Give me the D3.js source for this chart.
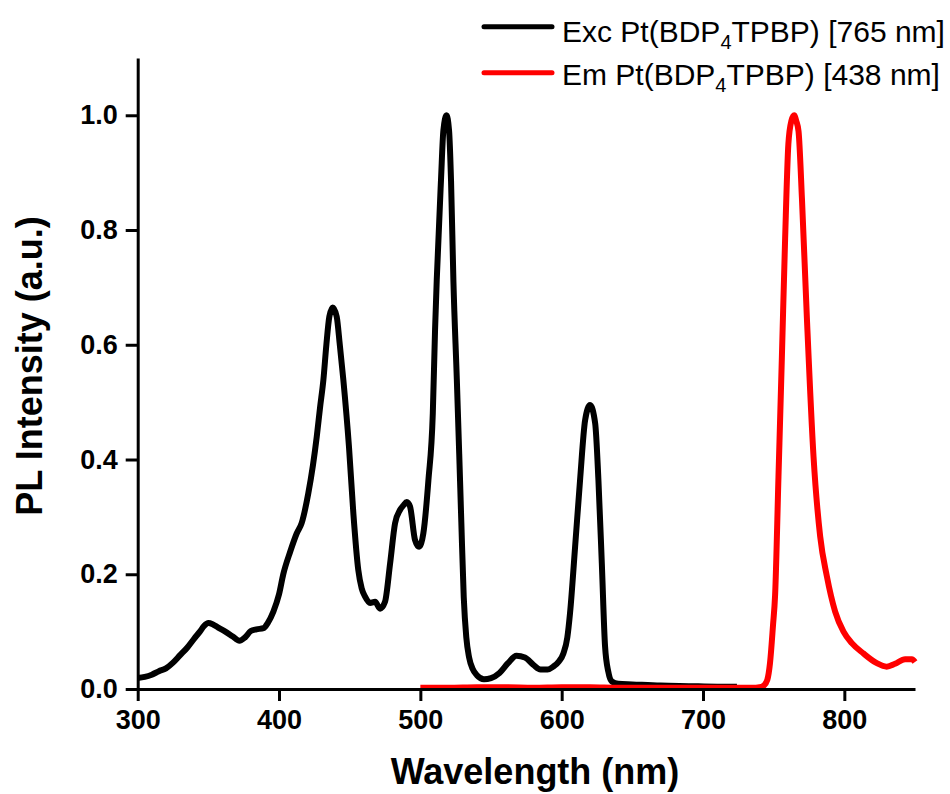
<!DOCTYPE html>
<html>
<head>
<meta charset="utf-8">
<script src="https://cdn.jsdelivr.net/npm/d3@7"></script>
<style>
  body { margin: 0; background: #fff; }
  svg { display: block; font-family: "Liberation Sans", Arial, sans-serif; }
</style>
</head>
<body>
<div id="container"></div>
<script>
// excitation spectrum (black)
var excWl = [300, 305, 310, 315, 320, 325, 330, 335, 340, 344, 347, 350, 353, 357, 362, 367, 372, 376, 380, 384, 389, 392, 396, 400, 403, 408, 412.5, 416, 420.7, 424, 426.7, 429, 431.4, 433.5, 435.6, 438, 440.8, 443, 445.5, 449.5, 452.6, 456.1, 458.5, 460.9, 464.4, 468, 471.5, 475, 478.6, 482.1, 485.6, 488, 490.4, 492.7, 496.2, 499.1, 502.1, 505.7, 508.8, 510.4, 511.6, 514.6, 516.3, 518.5, 520.3, 521.7, 523.4, 525.8, 527.5, 529, 530.7, 532.5, 534.5, 537, 540, 545, 550, 556, 562, 568, 574, 580, 585, 590, 594, 598, 601.2, 604, 605.9, 609.5, 613, 616.6, 620.1, 623.7, 626, 628.4, 630.7, 633, 635.5, 640, 650, 670, 690, 710, 724];
var excVal = [0.019, 0.021, 0.025, 0.031, 0.036, 0.046, 0.059, 0.072, 0.088, 0.100, 0.110, 0.115, 0.113, 0.107, 0.100, 0.092, 0.084, 0.090, 0.101, 0.104, 0.106, 0.115, 0.135, 0.165, 0.200, 0.240, 0.271, 0.289, 0.341, 0.390, 0.440, 0.490, 0.539, 0.600, 0.649, 0.665, 0.649, 0.600, 0.539, 0.422, 0.306, 0.207, 0.175, 0.161, 0.150, 0.152, 0.140, 0.152, 0.219, 0.289, 0.312, 0.320, 0.326, 0.318, 0.260, 0.248, 0.271, 0.364, 0.480, 0.626, 0.713, 0.887, 0.974, 1.000, 0.974, 0.887, 0.710, 0.540, 0.410, 0.290, 0.160, 0.090, 0.055, 0.035, 0.024, 0.017, 0.019, 0.028, 0.045, 0.058, 0.055, 0.042, 0.034, 0.034, 0.039, 0.048, 0.062, 0.090, 0.132, 0.248, 0.364, 0.469, 0.495, 0.463, 0.364, 0.219, 0.074, 0.030, 0.013, 0.009, 0.008, 0.006, 0.005, 0.004, 0.004];

// emission spectrum (red)
var emWl = [500, 520, 540, 560, 580, 600, 620, 640, 660, 680, 700, 720, 735, 740, 743, 745.5, 747.4, 749.5, 751, 753.4, 755.8, 758.1, 760.4, 762.5, 764.5, 766, 767.6, 770, 773.5, 778.2, 782.9, 787.6, 793.5, 799.4, 805.3, 813.5, 823, 830, 835.9, 843, 847.8, 850];
var emVal = [0.002, 0.002, 0.003, 0.003, 0.002, 0.003, 0.003, 0.002, 0.002, 0.002, 0.002, 0.002, 0.002, 0.003, 0.006, 0.016, 0.045, 0.110, 0.163, 0.370, 0.578, 0.785, 0.950, 0.990, 1.000, 0.990, 0.972, 0.855, 0.647, 0.405, 0.266, 0.197, 0.135, 0.100, 0.080, 0.062, 0.045, 0.039, 0.044, 0.052, 0.052, 0.047];

var xMajor = [300, 400, 500, 600, 700, 800];
var xMinor = [350, 450, 550, 650, 750, 850];
var yMajor = [0, 0.2, 0.4, 0.6, 0.8, 1.0];
var yMinor = [0.1, 0.3, 0.5, 0.7, 0.9, 1.1];

var width = 950, height = 794;
var svg = d3.select('#container')
      .append('svg')
      .attr('width', width)
      .attr('height', height);

var x = d3.scaleLinear().domain([300, 850]).range([137.7, 915]);
var y = d3.scaleLinear().domain([0, 1.1]).range([689, 57.9]);

var line = d3.line()
      .x(function(d) { return x(d[0]); })
      .y(function(d) { return y(d[1]); })
      .curve(d3.curveMonotoneX);

var excData = excWl.map(function(w, i) { return [w, excVal[i]]; });
var emData = emWl.map(function(w, i) { return [w, emVal[i]]; });

svg.append('path')
  .datum(excData)
  .attr('d', line)
  .style('fill', 'none')
  .style('stroke', '#000')
  .style('stroke-width', 6)
  .style('stroke-linejoin', 'round');

svg.append('path')
  .datum(emData)
  .attr('d', line)
  .style('fill', 'none')
  .style('stroke', '#ff0000')
  .style('stroke-width', 6)
  .style('stroke-linejoin', 'round');

// axes
var gx = svg.append('g').attr('transform', 'translate(0,' + y(0) + ')');
gx.call(d3.axisBottom(x).tickValues(xMinor).tickSize(6).tickSizeOuter(0).tickFormat(''));
gx.call(d3.axisBottom(x).tickValues(xMajor).tickSize(12).tickSizeOuter(0).tickPadding(9).tickFormat(d3.format('d')));

var gy = svg.append('g').attr('transform', 'translate(' + x(300) + ',0)');
gy.call(d3.axisLeft(y).tickValues(yMinor).tickSize(6).tickSizeOuter(0).tickFormat(''));
gy.call(d3.axisLeft(y).tickValues(yMajor).tickSize(12).tickSizeOuter(0).tickPadding(8).tickFormat(d3.format('.1f')));

svg.selectAll('.domain, .tick line')
  .style('stroke', '#000')
  .style('stroke-width', 3);
svg.selectAll('.tick text')
  .style('font-family', '"Liberation Sans", Arial, sans-serif')
  .style('font-size', '27px')
  .style('font-weight', 'bold')
  .style('fill', '#000');

// axis titles
svg.append('text')
  .attr('x', 535)
  .attr('y', 784)
  .attr('text-anchor', 'middle')
  .style('font-size', '36px')
  .style('font-weight', 'bold')
  .text('Wavelength (nm)');

svg.append('text')
  .attr('transform', 'translate(42,366) rotate(-90)')
  .attr('text-anchor', 'middle')
  .style('font-size', '36px')
  .style('font-weight', 'bold')
  .text('PL Intensity (a.u.)');

// legend
var legendItems = [
  {color: '#000', pre: 'Exc Pt(BDP', post: 'TPBP) [765 nm]', ly: 26.7, ty: 41.7},
  {color: '#ff0000', pre: 'Em Pt(BDP', post: 'TPBP) [438 nm]', ly: 72.7, ty: 85}
];
legendItems.forEach(function(d) {
  svg.append('line')
    .attr('x1', 484).attr('x2', 552)
    .attr('y1', d.ly).attr('y2', d.ly)
    .style('stroke', d.color)
    .style('stroke-width', 5)
    .style('stroke-linecap', 'round');
  var t = svg.append('text')
    .attr('x', 562)
    .attr('y', d.ty)
    .style('font-size', '30px');
  t.append('tspan').text(d.pre);
  t.append('tspan').attr('dy', 7).style('font-size', '20px').text('4');
  t.append('tspan').attr('dy', -7).text(d.post);
});
</script>
</body>
</html>
